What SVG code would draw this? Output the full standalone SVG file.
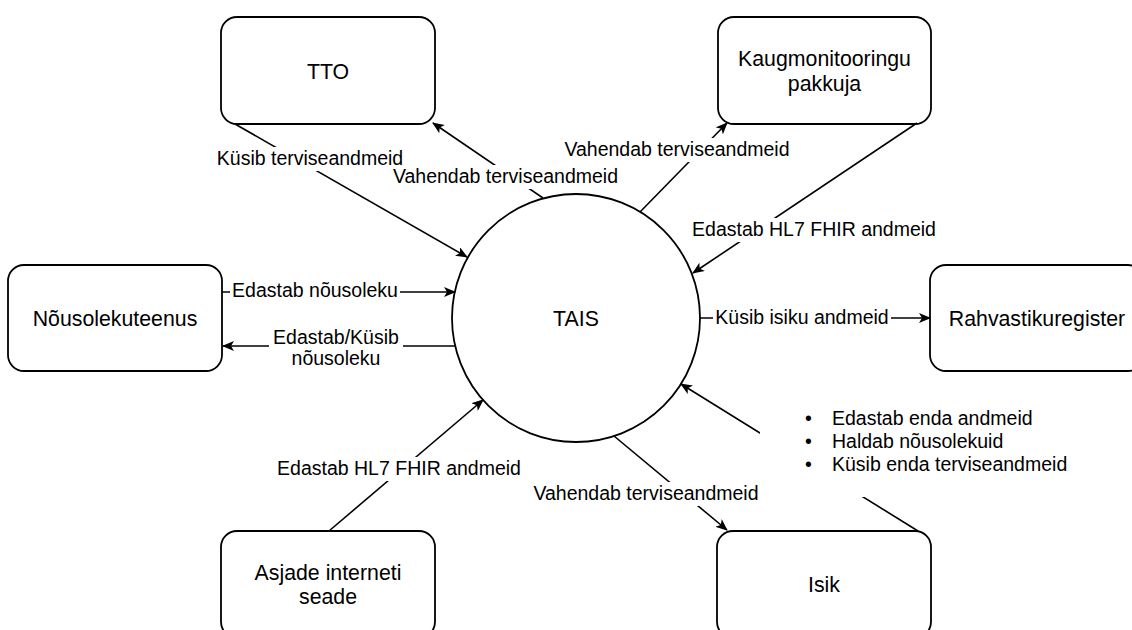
<svg xmlns="http://www.w3.org/2000/svg" width="1132" height="630" viewBox="0 0 1132 630">
  <style>
    .box { fill: #ffffff; stroke: #000000; stroke-width: 1.8; }
    .node-text { font-family: "Liberation Sans", Arial, Helvetica, sans-serif; font-size: 21.3px; fill: #000000; text-anchor: middle; }
    .edge { fill: none; stroke: #000000; stroke-width: 1.6; marker-end: url(#arrow); }
    .label-bg { fill: #ffffff; stroke: none; }
    .label { font-family: "Liberation Sans", Arial, Helvetica, sans-serif; font-size: 19.5px; fill: #000000; text-anchor: middle; }
    .list { font-family: "Liberation Sans", Arial, Helvetica, sans-serif; font-size: 19.5px; fill: #000000; }
  </style>
  <defs>
    <marker id="arrow" viewBox="0 0 12 10" markerUnits="userSpaceOnUse" markerWidth="12" markerHeight="10" refX="11" refY="5" orient="auto">
      <path d="M0,0 L12,5 L0,10 L3,5 Z" fill="#000000"/>
    </marker>
  </defs>

  <rect width="1132" height="630" fill="#ffffff"/>

  <!-- nodes -->
  <g id="node-tto">
    <rect class="box" x="221" y="17" width="214" height="107" rx="16" ry="16"/>
    <text class="node-text" x="328" y="79">TTO</text>
  </g>
  <g id="node-kaugmonitooring">
    <rect class="box" x="718" y="17" width="213" height="107" rx="16" ry="16"/>
    <text class="node-text" x="824.5" y="66">Kaugmonitooringu</text>
    <text class="node-text" x="824.5" y="91">pakkuja</text>
  </g>
  <g id="node-nousolekuteenus">
    <rect class="box" x="8" y="265" width="214" height="106" rx="16" ry="16"/>
    <text class="node-text" x="115" y="326">Nõusolekuteenus</text>
  </g>
  <g id="node-tais">
    <circle class="box" cx="576" cy="318" r="124"/>
    <text class="node-text" x="576" y="326">TAIS</text>
  </g>
  <g id="node-rahvastikuregister">
    <rect class="box" x="930" y="265" width="214" height="106" rx="16" ry="16"/>
    <text class="node-text" x="1037" y="326">Rahvastikuregister</text>
  </g>
  <g id="node-asjade-internet">
    <rect class="box" x="221" y="531" width="214" height="107" rx="16" ry="16"/>
    <text class="node-text" x="328" y="580">Asjade interneti</text>
    <text class="node-text" x="328" y="604">seade</text>
  </g>
  <g id="node-isik">
    <rect class="box" x="717" y="531" width="214" height="107" rx="16" ry="16"/>
    <text class="node-text" x="824" y="592">Isik</text>
  </g>

  <!-- connectors -->
  <g id="connectors">
    <line class="edge" x1="235" y1="124" x2="467" y2="257"/>
    <line class="edge" x1="543" y1="198" x2="433" y2="123"/>
    <line class="edge" x1="640" y1="212" x2="727" y2="123"/>
    <line class="edge" x1="917" y1="123" x2="693" y2="273"/>
    <line class="edge" x1="222" y1="292" x2="455" y2="292"/>
    <line class="edge" x1="455" y1="346" x2="223" y2="346"/>
    <line class="edge" x1="700" y1="318" x2="930" y2="318"/>
    <line class="edge" x1="918" y1="531" x2="681" y2="384"/>
    <line class="edge" x1="614" y1="436" x2="727" y2="530"/>
    <line class="edge" x1="329" y1="531" x2="483" y2="400"/>

    <!-- edge labels -->
    <rect class="label-bg" x="215" y="147" width="190" height="24"/>
    <text class="label" x="310" y="165">Küsib terviseandmeid</text>

    <rect class="label-bg" x="390" y="165" width="231" height="24"/>
    <text class="label" x="505.5" y="183">Vahendab terviseandmeid</text>

    <rect class="label-bg" x="562" y="138" width="230" height="24"/>
    <text class="label" x="677" y="156">Vahendab terviseandmeid</text>

    <rect class="label-bg" x="690" y="218" width="248" height="24"/>
    <text class="label" x="814" y="236">Edastab HL7 FHIR andmeid</text>

    <rect class="label-bg" x="230" y="279" width="170" height="24"/>
    <text class="label" x="315" y="297">Edastab nõusoleku</text>

    <rect class="label-bg" x="269" y="326" width="134" height="45"/>
    <text class="label" x="336" y="344">Edastab/Küsib</text>
    <text class="label" x="336" y="365">nõusoleku</text>

    <rect class="label-bg" x="713" y="306" width="178" height="24"/>
    <text class="label" x="802" y="324">Küsib isiku andmeid</text>

    <rect class="label-bg" x="760" y="395" width="335" height="102"/>
    <text class="list" x="805" y="425">•</text>
    <text class="list" x="832" y="425">Edastab enda andmeid</text>
    <text class="list" x="805" y="448">•</text>
    <text class="list" x="832" y="448">Haldab nõusolekuid</text>
    <text class="list" x="805" y="471">•</text>
    <text class="list" x="832" y="471">Küsib enda terviseandmeid</text>

    <rect class="label-bg" x="531" y="482" width="230" height="24"/>
    <text class="label" x="646" y="500">Vahendab terviseandmeid</text>

    <rect class="label-bg" x="275" y="457" width="248" height="24"/>
    <text class="label" x="399" y="475">Edastab HL7 FHIR andmeid</text>
  </g>
</svg>
